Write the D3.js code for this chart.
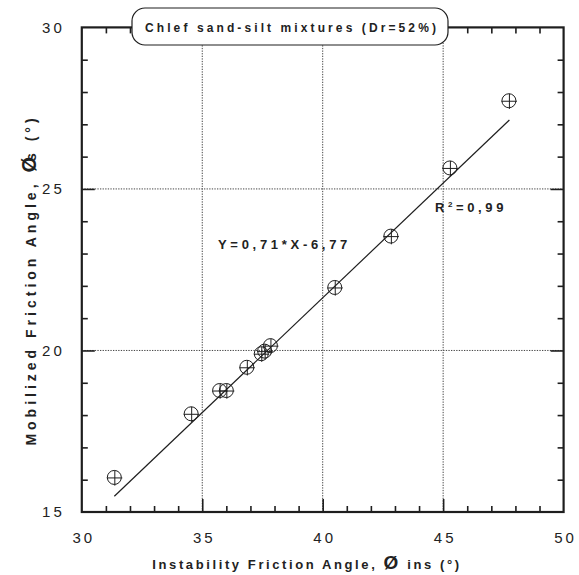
<!DOCTYPE html>
<html>
<head>
<meta charset="utf-8">
<script src="https://cdn.jsdelivr.net/npm/d3@7"></script>
<style>
  html, body { margin: 0; padding: 0; background: #fff; }
  svg { display: block; }
  text { font-family: "Liberation Sans", Arial, sans-serif; fill: #222; }
</style>
</head>
<body>
<svg id="chart" width="579" height="575"></svg>
<script>
// Instability vs mobilized friction angle, Chlef sand-silt mixtures
const phiIns = [31.35, 34.54, 35.72, 36.0, 36.85, 37.45, 37.59, 37.83, 40.5, 42.83, 45.28, 47.73];
const phiS   = [16.07, 18.04, 18.76, 18.76, 19.48, 19.90, 19.98, 20.15, 21.95, 23.54, 25.65, 27.73];

// Linear fit printed on the chart
const slope = 0.71;
const intercept = -6.77;
const fitRange = [31.35, 47.75];

const xTicks = [30, 35, 40, 45, 50];
const yTicks = [15, 20, 25, 30];
const xMinor = [31, 32, 33, 34, 36, 37, 38, 39, 41, 42, 43, 44, 46, 47, 48, 49];
const yMinor = [16, 17, 18, 19, 21, 22, 23, 24, 26, 27, 28, 29];
const xGrid = [35, 40, 45];
const yGrid = [20, 25];

const titleText = "Chlef sand-silt mixtures (Dr=52%)";
const eqText = "Y=0,71*X-6,77";

const svg = d3.select("#chart");
const L = 81.8, R = 563.6, T = 27.4, B = 512;

const x = d3.scaleLinear().domain([30, 50]).range([L, R]);
const y = d3.scaleLinear().domain([15, 30]).range([B, T]);

const ink = "#1e1e1e";

// dotted grid
const grid = svg.append("g");
grid.selectAll("line.gx").data(xGrid).join("line")
  .attr("x1", d => x(d)).attr("x2", d => x(d))
  .attr("y1", B).attr("y2", T)
  .attr("stroke", "#444").attr("stroke-width", 1)
  .attr("stroke-dasharray", "1.3,1.3");
grid.selectAll("line.gy").data(yGrid).join("line")
  .attr("x1", L).attr("x2", R)
  .attr("y1", d => y(d)).attr("y2", d => y(d))
  .attr("stroke", "#444").attr("stroke-width", 1)
  .attr("stroke-dasharray", "1.3,1.3");

// inward ticks on all four sides
function styleAxis(g) {
  g.select(".domain").remove();
  g.selectAll(".tick line").attr("stroke", ink).attr("stroke-width", 1.6);
  g.selectAll(".tick text").remove();
}
[[d3.axisBottom, B, -6, xMinor], [d3.axisBottom, B, -13, xGrid],
 [d3.axisTop, T, -6, xMinor], [d3.axisTop, T, -13, xGrid]].forEach(([ax, pos, size, vals]) => {
  svg.append("g").attr("transform", `translate(0,${pos})`)
    .call(ax(x).tickValues(vals).tickSize(size)).call(styleAxis);
});
[[d3.axisLeft, L, -6, yMinor], [d3.axisLeft, L, -13, yGrid],
 [d3.axisRight, R, -6, yMinor], [d3.axisRight, R, -13, yGrid]].forEach(([ax, pos, size, vals]) => {
  svg.append("g").attr("transform", `translate(${pos},0)`)
    .call(ax(y).tickValues(vals).tickSize(size)).call(styleAxis);
});

// frame
svg.append("rect").attr("x", L).attr("y", T)
  .attr("width", R - L).attr("height", B - T)
  .attr("fill", "none").attr("stroke", ink).attr("stroke-width", 2.2);

// tick labels
const xLab = svg.append("g").attr("transform", `translate(0,${B})`)
  .call(d3.axisBottom(x).tickValues(xTicks).tickSize(0).tickPadding(20));
xLab.select(".domain").remove();
xLab.selectAll(".tick text").attr("font-size", 15).attr("letter-spacing", 3)
  .attr("dx", 1.5).attr("fill", "#222").style("font-family", "Liberation Sans, Arial, sans-serif");

const yLab = svg.append("g").attr("transform", `translate(${L},0)`)
  .call(d3.axisLeft(y).tickValues(yTicks).tickSize(0).tickPadding(17));
yLab.select(".domain").remove();
yLab.selectAll(".tick text").attr("font-size", 15).attr("letter-spacing", 3)
  .attr("fill", "#222").style("font-family", "Liberation Sans, Arial, sans-serif");

// regression line
const fit = d3.line().x(d => x(d)).y(d => y(slope * d + intercept));
svg.append("path").datum(fitRange).attr("d", fit)
  .attr("fill", "none").attr("stroke", ink).attr("stroke-width", 1.2);

// circle-plus markers
const pts = phiIns.map((v, i) => [v, phiS[i]]);
const mk = svg.append("g").selectAll("g").data(pts).join("g")
  .attr("transform", d => `translate(${x(d[0])},${y(d[1])})`);
mk.append("circle").attr("r", 7).attr("fill", "none").attr("stroke", ink).attr("stroke-width", 1);
mk.append("line").attr("x1", -7.5).attr("x2", 8).attr("y1", 0.5).attr("y2", 0.5)
  .attr("stroke", ink).attr("stroke-width", 1);
mk.append("line").attr("x1", 0.5).attr("x2", 0.5).attr("y1", -7).attr("y2", 8.2)
  .attr("stroke", ink).attr("stroke-width", 1);

// title box
const tb = svg.append("g");
tb.append("rect").attr("x", 132).attr("y", 8).attr("width", 316).attr("height", 37)
  .attr("rx", 13).attr("fill", "#fff").attr("stroke", ink).attr("stroke-width", 1.2);
tb.append("text").attr("x", 292).attr("y", 31.5).attr("text-anchor", "middle")
  .attr("font-size", 12).attr("font-weight", "bold").attr("letter-spacing", 3.1)
  .text(titleText);

// fit annotations
svg.append("text").attr("x", 218).attr("y", 249)
  .attr("font-size", 13).attr("font-weight", "bold").attr("letter-spacing", 3.7)
  .text(eqText);
const r2 = svg.append("text").attr("x", 435).attr("y", 212)
  .attr("font-size", 13).attr("font-weight", "bold").attr("letter-spacing", 3.6);
r2.append("tspan").text("R");
r2.append("tspan").attr("font-size", 8).attr("dy", -5).text("2");
r2.append("tspan").attr("dy", 5).text("=0,99");

// axis titles
const xt = svg.append("text").attr("x", 307).attr("y", 569).attr("text-anchor", "middle")
  .attr("font-size", 13).attr("font-weight", "bold").attr("letter-spacing", 2.6);
xt.append("tspan").text("Instability Friction Angle,  ");
xt.append("tspan").attr("font-size", 19).text("Ø");
xt.append("tspan").text(" ins (°)");

const yt = svg.append("text")
  .attr("transform", `translate(36,280) rotate(-90)`)
  .attr("text-anchor", "middle")
  .attr("font-size", 14).attr("font-weight", "bold").attr("letter-spacing", 4);
yt.append("tspan").text("Mobilized Friction Angle, ");
yt.append("tspan").attr("font-size", 20).text("Ø");
yt.append("tspan").attr("dx", -8).text("s (°)");
</script>
</body>
</html>
